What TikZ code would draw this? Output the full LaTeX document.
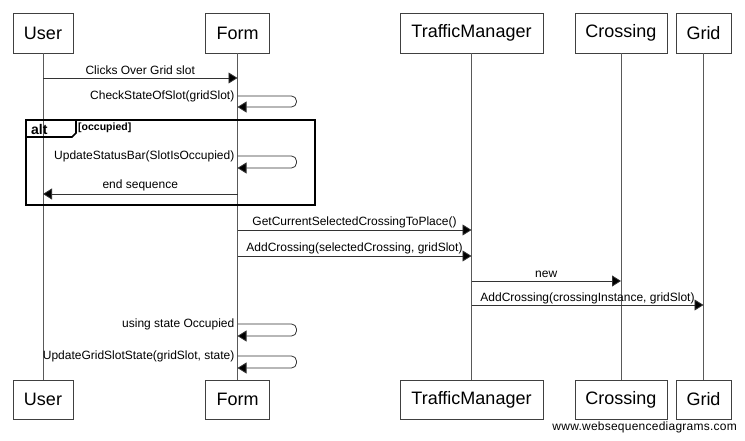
\documentclass[tikz,border=0pt]{standalone}
\usepackage{fontspec}
\setmainfont{Liberation Sans}
\usetikzlibrary{arrows.meta}
\begin{document}
\begin{tikzpicture}[x=1pt,y=-1pt,
  actor/.style={draw=black!75, line width=0.8pt, minimum height=40pt,
    inner sep=0pt, font=\fontsize{18}{20}\selectfont},
  lifeline/.style={draw=black!65, line width=0.9pt},
  msg/.style={draw=black!80, line width=0.8pt,
    -{Triangle[length=9pt,width=11pt,fill=black]}},
  selfmsg/.style={msg, rounded corners=5pt},
  lbl/.style={font=\fontsize{12}{14}\selectfont, inner sep=1pt},
  frame/.style={draw=black, line width=1.6pt}]
\fill[white] (0,0) rectangle (745,441);
\useasboundingbox (0,0) rectangle (745,441);

% participants, top and bottom
\node[actor, minimum width=60pt]  (userT) at (43,33)    {User};
\node[actor, minimum width=64pt]  (formT) at (237.5,33) {Form};
\node[actor, minimum width=143pt] (tmT)   at (471.5,33) {TrafficManager};
\node[actor, minimum width=92pt]  (crT)   at (621,33)   {Crossing};
\node[actor, minimum width=55pt]  (grT)   at (703.5,33) {Grid};

\node[actor, minimum width=60pt, minimum height=39pt]  (userB) at (43,399.5)    {User};
\node[actor, minimum width=64pt, minimum height=39pt]  (formB) at (237.5,399.5) {Form};
\node[actor, minimum width=143pt, minimum height=39pt] (tmB)   at (471.5,399.5) {TrafficManager};
\node[actor, minimum width=92pt, minimum height=39pt]  (crB)   at (621,399.5)   {Crossing};
\node[actor, minimum width=55pt, minimum height=39pt]  (grB)   at (703.5,399.5) {Grid};

% lifelines
\draw[lifeline] (userT) -- (userB);
\draw[lifeline] (formT) -- (formB);
\draw[lifeline] (tmT) -- (tmB);
\draw[lifeline] (crT) -- (crB);
\draw[lifeline] (grT) -- (grB);

% message rows
\coordinate (r1) at (0,78);
\coordinate (r2a) at (0,96);   \coordinate (r2b) at (0,107);
\coordinate (r3a) at (0,156);  \coordinate (r3b) at (0,168);
\coordinate (r4) at (0,194);
\coordinate (r5) at (0,230);
\coordinate (r6) at (0,256);
\coordinate (r7) at (0,281);
\coordinate (r8) at (0,305);
\coordinate (r9a) at (0,324);  \coordinate (r9b) at (0,336);
\coordinate (r10a) at (0,356); \coordinate (r10b) at (0,368);

% alt fragment
\draw[frame] (26,120) rectangle (315,205);
\draw[frame, line join=miter] (26,137) -- (72,137) -- (76,133) -- (76,120);
\node[font=\bfseries\fontsize{14}{16}\selectfont, anchor=west, inner sep=0pt] (altlbl) at (31,129) {alt};
\node[font=\bfseries\fontsize{10.5}{12}\selectfont, anchor=west, inner sep=0pt] (cond) at (78,127.5) {[occupied]};

% messages
\draw[msg] (userT |- r1) -- node[lbl, above=1.5pt] {Clicks Over Grid slot} (formT |- r1);

\draw[selfmsg] (formT |- r2a) -- ++(59,0) -- ++(0,11) -- (formT |- r2b);
\node[lbl, anchor=east] (l2) at ([xshift=-2pt]formT |- r2a) {CheckStateOfSlot(gridSlot)};

\draw[selfmsg] (formT |- r3a) -- ++(59,0) -- ++(0,12) -- (formT |- r3b);
\node[lbl, anchor=east] (l3) at ([xshift=-2pt]formT |- r3a) {UpdateStatusBar(SlotIsOccupied)};

\draw[msg] (formT |- r4) -- node[lbl, above=1.5pt] {end sequence} (userT |- r4);

\draw[msg] (formT |- r5) -- node[lbl, above=0.5pt] {GetCurrentSelectedCrossingToPlace()} (tmT |- r5);
\draw[msg] (formT |- r6) -- node[lbl, above=1pt] {AddCrossing(selectedCrossing, gridSlot)} (tmT |- r6);
\draw[msg] (tmT |- r7) -- node[lbl, above=1.5pt] {new} (crT |- r7);
\draw[msg] (tmT |- r8) -- node[lbl, above=0pt] {AddCrossing(crossingInstance, gridSlot)} (grT |- r8);

\draw[selfmsg] (formT |- r9a) -- ++(59,0) -- ++(0,12) -- (formT |- r9b);
\node[lbl, anchor=east] (l9) at ([xshift=-2pt]formT |- r9a) {using state Occupied};

\draw[selfmsg] (formT |- r10a) -- ++(59,0) -- ++(0,12) -- (formT |- r10b);
\node[lbl, anchor=east] (l10) at ([xshift=-2pt]formT |- r10a) {UpdateGridSlotState(gridSlot, state)};

% credit line
\node[font=\fontsize{12}{14}\selectfont, anchor=east, inner sep=0pt] (credit) at (737,427)
  {\addfontfeature{LetterSpace=2}www.websequencediagrams.com};
\end{tikzpicture}
\end{document}
